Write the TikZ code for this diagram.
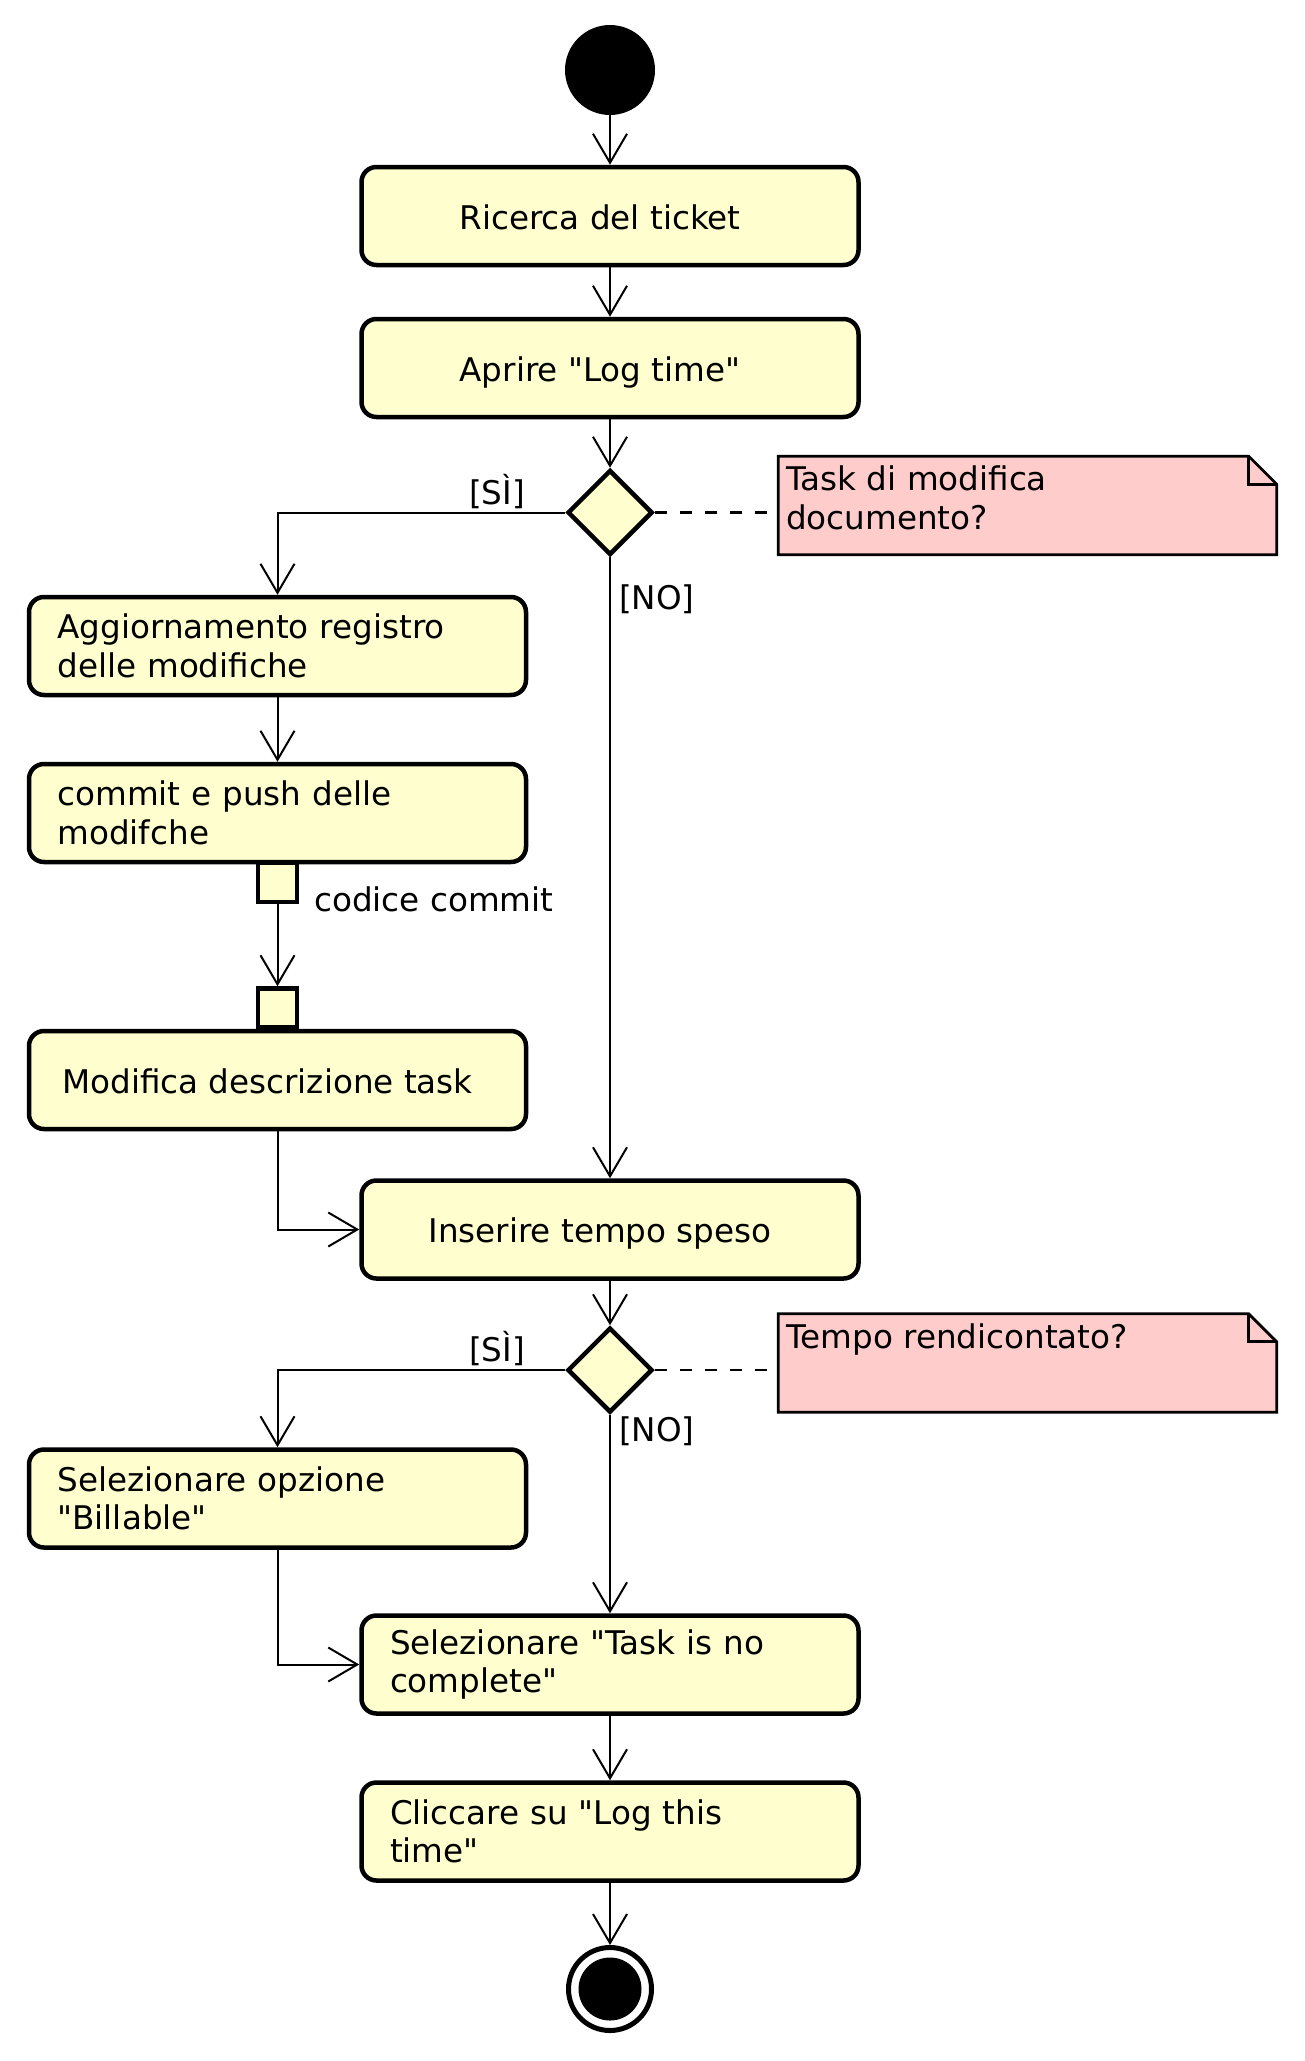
\documentclass[tikz,border=0pt]{standalone}
\usepackage{fontspec}
\setmainfont{DejaVu Sans}
\usepackage{tikz}
\usetikzlibrary{arrows.meta,shapes.geometric}
\definecolor{actfill}{HTML}{FEFECE}
\definecolor{notefill}{HTML}{FFCCCC}
\newcommand{\umlfont}{\fontsize{32.6}{38.5}\selectfont}
\newcommand{\dq}{\textquotedbl}

\begin{document}
\begin{tikzpicture}[x=1pt, y=-1pt,
  >={Straight Barb[length=29pt,width=34pt]},
  act/.style={draw, line width=4.5pt, fill=actfill, rounded corners=15pt,
    minimum width=497pt, minimum height=98pt, inner sep=4pt, font=\umlfont},
  actone/.style={act, text height=26pt, text depth=0pt, execute at end node=\kern20pt},
  acttwo/.style={act, text width=440pt, align=left},
  decision/.style={diamond, draw, line width=4.5pt, fill=actfill, shape aspect=1,
    minimum width=85pt, minimum height=85pt, inner sep=0pt},
  pinbox/.style={draw, line width=4.5pt, fill=actfill, minimum size=39pt, inner sep=0pt},
  startdot/.style={circle, fill=black, minimum size=90pt, inner sep=0pt},
  enddot/.style={circle, draw, line width=5pt, fill=white, minimum size=83pt, inner sep=0pt,
    path picture={\fill[black] (path picture bounding box.center) circle (31.5pt);}},
  noteshape/.style={rectangle, minimum width=498pt, minimum height=98pt, inner sep=0pt},
  notedraw/.style={draw, line width=2.7pt, fill=notefill, line join=miter},
  notetext/.style={font=\umlfont, inner sep=0pt, align=left},
  guard/.style={font=\umlfont, inner sep=0pt},
  flow/.style={->, line width=2pt},
  noteline/.style={line width=2.5pt, dash pattern=on 12pt off 13pt}]
\useasboundingbox (0,0) rectangle (1305,2061);

%%%%% Main column %%%%%
\node[startdot] (start) at (610,70) {};
\node[actone] (box1) at (610,216) {Ricerca del ticket};
\node[actone] (box2) at (610,368) {Aprire \dq Log time\dq};
\node[decision] (dia1) at (610,512.5) {};

%%%%% Branch SI %%%%%
\node[acttwo] (box3) at (277.5,646) {Aggiornamento registro\\delle modifiche};
\node[acttwo] (box4) at (277.5,813) {commit e push delle\\modifche};
\node[actone] (box5) at (277.5,1080) {Modifica descrizione task};
\node[pinbox] (pin1) at (277.5,882.5) {};
\node[pinbox] (pin2) at (277.5,1008) {};

\node[actone] (box6) at (610,1229.5) {Inserire tempo speso};
\node[decision] (dia2) at (610,1370) {};
\node[acttwo] (box7) at (277.5,1498.5) {Selezionare opzione\\\dq Billable\dq};
\node[acttwo] (box8) at (610,1664.5) {Selezionare \dq Task is no\\complete\dq};
\node[acttwo] (box9) at (610,1831.5) {Cliccare su \dq Log this\\time\dq};
\node[enddot] (stop) at (610,1989) {};

%%%%% Notes %%%%%
\node[noteshape] (note1) at (1027.5,505.5) {};
\node[noteshape] (note2) at (1027.5,1363) {};
\foreach \n in {note1,note2}{
  \draw[notedraw] (\n.north west) -- ([xshift=-28pt]\n.north east) -- ([yshift=-28pt]\n.north east)
    -- (\n.south east) -- (\n.south west) -- cycle;
  \draw[line width=2.7pt] ([xshift=-28pt]\n.north east) -- ([xshift=-28pt,yshift=-28pt]\n.north east)
    -- ([yshift=-28pt]\n.north east);
}
\node[notetext, anchor=north west] (note1txt) at (786,466) {Task di modifica\\documento?};
\node[notetext, anchor=north west] (note2txt) at (786,1324) {Tempo rendicontato?};
\draw[noteline] (dia1.east) -- (dia1.east -| note1.west);
\draw[noteline] (dia2.east) -- (dia2.east -| note2.west);

%%%%% Flows %%%%%
\draw[flow] (start) -- (box1);
\draw[flow] (box1) -- (box2);
\draw[flow] (box2) -- (dia1);
\draw[flow] (dia1.west) -| (box3.north);
\draw[flow] (box3) -- (box4);
\draw[flow] (pin1) -- (pin2);
\draw[flow] (dia1.south) -- (box6.north);
\draw[flow] (box5.south) |- (box6.west);
\draw[flow] (box6) -- (dia2);
\draw[flow] (dia2.west) -| (box7.north);
\draw[flow] (dia2.south) -- (box8.north);
\draw[flow] (box7.south) |- (box8.west);
\draw[flow] (box8) -- (box9);
\draw[flow] (box9) -- (stop);

%%%%% Labels %%%%%
\node[guard, anchor=base east] (si1) at (525,504) {[SÌ]};
\node[guard, anchor=base west] (no1) at (619,609) {[NO]};
\node[guard, anchor=base east] (si2) at (525,1361) {[SÌ]};
\node[guard, anchor=base west] (no2) at (619,1441.5) {[NO]};
\node[guard, anchor=base west] (commit) at (314,911) {codice commit};
\end{tikzpicture}
\end{document}
